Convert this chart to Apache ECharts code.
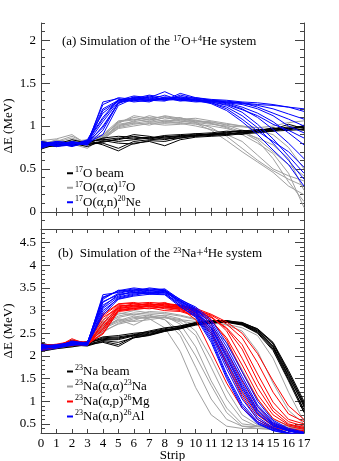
<!DOCTYPE html>
<html>
<head>
<meta charset="utf-8">
<script src="https://cdn.jsdelivr.net/npm/echarts@6/dist/echarts.min.js"></script>
<style>
  html, body { margin: 0; padding: 0; background: #fff; }
  #chart { width: 339px; height: 461px; }
</style>
</head>
<body>
<div id="chart"></div>
<script>
// strip positions (x)
const strips = [0, 1, 2, 3, 4, 5, 6, 7, 8, 9, 10, 11, 12, 13, 14, 15, 16, 17]

// tick values
const yMajorA = [0, 0.5, 1, 1.5, 2]
const yMajorB = [0.5, 1, 1.5, 2, 2.5, 3, 3.5, 4, 4.5]

// ---- panel (a): 17O + 4He ----
const oBeam = [
  [0.78,0.80,0.79,0.82,0.84,0.86,0.85,0.87,0.86,0.88,0.89,0.90,0.91,0.92,0.93,0.94,0.95,0.96],
  [0.75,0.77,0.80,0.79,0.80,0.74,0.82,0.84,0.85,0.86,0.88,0.89,0.90,0.92,0.94,0.95,0.97,0.98],
  [0.82,0.79,0.84,0.80,0.86,0.88,0.87,0.86,0.89,0.90,0.91,0.92,0.94,0.93,0.95,0.97,0.96,1.00],
  [0.76,0.81,0.77,0.83,0.78,0.71,0.80,0.82,0.77,0.84,0.87,0.88,0.89,0.91,0.92,0.94,0.98,0.95],
  [0.80,0.78,0.82,0.78,0.82,0.84,0.88,0.85,0.87,0.89,0.88,0.91,0.92,0.94,0.96,0.95,0.97,0.99],
  [0.73,0.79,0.78,0.81,0.85,0.82,0.84,0.86,0.88,0.87,0.90,0.90,0.93,0.95,0.93,0.96,1.02,0.97],
  [0.79,0.76,0.80,0.76,0.83,0.80,0.79,0.83,0.82,0.86,0.89,0.91,0.90,0.93,0.94,0.98,0.95,1.01],
  [0.81,0.78,0.77,0.80,0.81,0.85,0.90,0.88,0.84,0.88,0.91,0.89,0.92,0.90,0.95,0.96,0.99,0.98]
]
const oAlphaAlpha = [
  [0.80,0.82,0.88,0.80,0.86,1.02,1.05,1.08,1.06,1.07,1.05,1.04,1.02,1.00,0.98,0.97,0.96,0.95],
  [0.78,0.79,0.81,0.83,0.88,1.04,1.10,1.07,1.12,1.09,1.06,1.05,1.01,0.95,0.85,0.70,0.55,0.42],
  [0.83,0.85,0.90,0.78,0.84,0.98,1.02,1.04,1.03,1.05,1.06,1.03,0.99,0.93,0.83,0.62,0.35,0.12],
  [0.76,0.80,0.79,0.74,0.87,1.00,1.06,1.12,1.08,1.10,1.04,0.98,0.88,0.74,0.60,0.48,0.38,0.30],
  [0.81,0.78,0.82,0.84,0.90,1.06,1.08,1.05,1.10,1.06,1.03,0.95,0.83,0.70,0.58,0.46,0.30,0.20],
  [0.79,0.83,0.80,0.81,0.85,0.97,1.00,1.03,1.01,1.02,1.04,1.02,1.00,0.99,0.98,1.00,1.04,1.06],
  [0.77,0.81,0.86,0.79,0.89,1.03,1.12,1.09,1.11,1.08,1.07,1.03,0.98,0.90,0.80,0.68,0.45,0.05],
  [0.82,0.80,0.78,0.82,0.86,0.99,1.04,1.01,1.06,1.04,1.02,1.00,0.97,0.92,0.86,0.78,0.62,0.25],
  [0.80,0.77,0.84,0.80,0.88,1.05,1.07,1.10,1.05,1.08,1.09,1.06,1.03,1.00,0.95,0.90,0.75,0.50],
  [0.78,0.84,0.80,0.76,0.84,1.01,1.03,1.06,1.04,1.03,1.00,0.96,0.90,0.82,0.66,0.50,0.42,0.36]
]
const oAlphaN = [
  [0.78,0.80,0.79,0.82,1.20,1.30,1.32,1.30,1.33,1.31,1.30,1.29,1.28,1.27,1.25,1.24,1.22,1.20],
  [0.76,0.79,0.81,0.80,1.05,1.28,1.30,1.35,1.31,1.34,1.32,1.30,1.27,1.22,1.15,1.05,0.92,0.78],
  [0.81,0.77,0.80,0.78,0.95,1.27,1.33,1.31,1.36,1.30,1.31,1.28,1.24,1.16,1.02,0.85,0.65,0.45],
  [0.74,0.80,0.78,0.83,1.10,1.31,1.29,1.34,1.30,1.38,1.33,1.30,1.29,1.27,1.22,1.15,1.08,1.00],
  [0.79,0.82,0.80,0.81,1.25,1.33,1.31,1.29,1.32,1.33,1.29,1.27,1.22,1.12,0.98,0.80,0.60,0.38],
  [0.77,0.78,0.82,0.79,1.00,1.26,1.34,1.32,1.30,1.31,1.33,1.31,1.30,1.28,1.27,1.25,1.22,1.17],
  [0.80,0.76,0.78,0.84,1.15,1.29,1.30,1.28,1.34,1.32,1.30,1.26,1.18,1.05,0.90,0.72,0.55,0.30],
  [0.75,0.81,0.77,0.80,0.90,1.24,1.32,1.36,1.33,1.29,1.31,1.29,1.26,1.20,1.10,0.96,0.80,0.62],
  [0.82,0.79,0.81,0.79,1.28,1.32,1.28,1.30,1.31,1.34,1.30,1.28,1.25,1.19,1.12,1.02,0.95,0.86],
  [0.78,0.77,0.79,0.82,1.08,1.30,1.35,1.33,1.40,1.32,1.29,1.30,1.28,1.26,1.24,1.20,1.14,1.08],
  [0.79,0.80,0.76,0.81,0.98,1.27,1.31,1.30,1.29,1.36,1.32,1.27,1.20,1.08,0.94,0.82,0.70,0.52],
  [0.76,0.82,0.80,0.78,1.18,1.29,1.33,1.31,1.32,1.30,1.28,1.29,1.27,1.25,1.20,1.12,1.00,0.92]
]

// ---- panel (b): 23Na + 4He ----
const naBeam = [
  [2.20,2.22,2.27,2.28,2.38,2.40,2.45,2.50,2.57,2.63,2.72,2.76,2.77,2.70,2.55,2.20,1.55,0.90],
  [2.15,2.18,2.24,2.22,2.32,2.25,2.42,2.47,2.55,2.61,2.70,2.74,2.76,2.72,2.58,2.26,1.62,0.96],
  [2.25,2.24,2.30,2.30,2.42,2.45,2.50,2.53,2.60,2.66,2.74,2.78,2.78,2.73,2.60,2.30,1.68,1.00],
  [2.10,2.16,2.20,2.25,2.30,2.21,2.40,2.46,2.55,2.60,2.68,2.73,2.75,2.69,2.52,2.15,1.48,0.82],
  [2.22,2.20,2.35,2.27,2.40,2.42,2.47,2.55,2.62,2.66,2.73,2.77,2.78,2.71,2.56,2.22,1.58,0.88],
  [2.18,2.25,2.26,2.23,2.35,2.36,2.44,2.48,2.56,2.64,2.71,2.75,2.75,2.70,2.53,2.18,1.52,0.78],
  [2.28,2.21,2.22,2.32,2.36,2.38,2.46,2.52,2.58,2.62,2.69,2.72,2.76,2.74,2.59,2.28,1.64,0.93],
  [2.12,2.19,2.28,2.26,2.34,2.30,2.40,2.45,2.54,2.60,2.70,2.75,2.74,2.68,2.50,2.12,1.45,0.75]
]
const naAlphaAlpha = [
  [2.20,2.22,2.27,2.28,2.60,2.75,2.85,2.82,2.62,2.10,1.30,0.70,0.45,0.40,0.40,0.38,0.36,0.35],
  [2.15,2.18,2.24,2.22,2.55,2.70,2.78,2.90,2.80,2.45,1.75,1.05,0.60,0.45,0.44,0.42,0.40,0.38],
  [2.25,2.24,2.30,2.30,2.70,2.88,2.95,2.92,2.88,2.70,2.20,1.45,0.85,0.50,0.46,0.44,0.42,0.40],
  [2.10,2.16,2.20,2.25,2.65,2.80,2.68,2.85,2.90,2.82,2.55,1.95,1.25,0.70,0.48,0.45,0.43,0.42],
  [2.22,2.20,2.35,2.27,2.75,2.92,3.00,2.95,2.93,2.88,2.80,2.50,1.90,1.20,0.70,0.48,0.46,0.44],
  [2.18,2.25,2.26,2.23,2.52,2.72,2.82,2.86,2.84,2.78,2.70,2.62,2.30,1.70,1.05,0.60,0.47,0.45],
  [2.28,2.21,2.22,2.32,2.80,2.95,2.90,2.98,2.96,2.90,2.82,2.75,2.68,2.55,2.10,1.40,0.80,0.50],
  [2.12,2.19,2.28,2.26,2.62,2.78,2.88,2.84,2.86,2.80,2.76,2.72,2.70,2.62,2.45,1.95,1.20,0.55],
  [2.20,2.16,2.26,2.29,2.68,2.85,2.92,2.88,2.80,2.55,2.00,1.35,0.75,0.45,0.40,0.38,0.36,0.35],
  [2.17,2.23,2.21,2.27,2.58,2.82,2.76,2.80,2.85,2.75,2.45,1.75,1.05,0.60,0.44,0.42,0.40,0.39]
]
const naAlphaP = [
  [2.20,2.24,2.30,2.27,2.50,3.00,3.05,3.10,3.08,3.05,2.80,2.10,1.40,0.85,0.55,0.40,0.30,0.25],
  [2.16,2.19,2.38,2.25,2.70,3.10,3.12,3.15,3.10,3.08,2.95,2.55,1.85,1.20,0.70,0.45,0.38,0.32],
  [2.24,2.22,2.28,2.31,2.85,3.05,3.08,3.12,3.15,3.10,3.00,2.80,2.35,1.65,1.05,0.62,0.45,0.38],
  [2.12,2.18,2.25,2.23,2.60,3.08,3.15,3.12,3.18,3.06,2.98,2.85,2.60,2.15,1.45,0.85,0.55,0.45],
  [2.22,2.26,2.32,2.29,2.92,3.15,3.18,3.10,3.14,3.12,3.02,2.90,2.70,2.40,1.85,1.20,0.72,0.55],
  [2.18,2.20,2.24,2.26,2.48,2.98,3.02,3.06,3.00,2.98,2.88,2.50,1.80,1.10,0.60,0.42,0.35,0.30],
  [2.26,2.23,2.34,2.30,2.78,3.12,3.10,3.14,3.12,3.09,3.02,2.88,2.55,1.95,1.30,0.78,0.50,0.42],
  [2.14,2.21,2.27,2.28,2.65,3.04,3.10,3.08,3.06,3.04,2.92,2.70,2.10,1.45,0.88,0.52,0.40,0.35],
  [2.21,2.17,2.29,2.24,2.88,3.14,3.16,3.18,3.16,3.12,3.05,2.92,2.75,2.50,2.05,1.45,0.90,0.60],
  [2.19,2.25,2.22,2.32,2.55,3.02,3.06,3.04,3.08,3.02,2.95,2.78,2.40,1.80,1.15,0.70,0.48,0.40],
  [2.23,2.19,2.31,2.27,2.72,3.06,3.12,3.16,3.10,3.06,3.00,2.85,2.62,2.25,1.60,0.98,0.60,0.50],
  [2.15,2.22,2.26,2.25,2.60,3.00,3.04,3.10,3.04,3.00,2.90,2.62,2.00,1.30,0.78,0.48,0.36,0.33]
]
const naAlphaN = [
  [2.20,2.23,2.28,2.27,3.20,3.35,3.40,3.38,3.42,3.18,2.95,2.50,1.80,1.15,0.65,0.42,0.30,0.25],
  [2.17,2.19,2.25,2.24,3.05,3.30,3.38,3.45,3.40,3.22,3.00,2.60,1.95,1.30,0.75,0.45,0.35,0.28],
  [2.24,2.21,2.32,2.29,3.30,3.42,3.48,3.40,3.45,3.25,3.05,2.75,2.20,1.55,0.92,0.55,0.38,0.30],
  [2.12,2.17,2.24,2.25,2.95,3.28,3.36,3.42,3.38,3.15,2.90,2.40,1.60,0.95,0.55,0.38,0.30,0.25],
  [2.22,2.25,2.30,2.28,3.25,3.45,3.42,3.50,3.46,3.20,3.02,2.65,2.05,1.40,0.82,0.50,0.35,0.28],
  [2.18,2.21,2.23,2.30,3.12,3.32,3.44,3.38,3.40,3.10,2.85,2.30,1.50,0.85,0.50,0.35,0.28,0.22],
  [2.26,2.20,2.29,2.26,3.35,3.40,3.46,3.44,3.48,3.24,3.08,2.80,2.28,1.65,1.00,0.58,0.40,0.32],
  [2.14,2.22,2.27,2.23,3.00,3.26,3.34,3.40,3.36,3.12,2.92,2.45,1.72,1.05,0.60,0.40,0.30,0.25],
  [2.20,2.18,2.33,2.27,3.18,3.38,3.45,3.48,3.44,3.20,2.98,2.55,1.88,1.25,0.72,0.46,0.34,0.27],
  [2.16,2.24,2.26,2.31,3.08,3.36,3.40,3.36,3.43,3.16,2.96,2.62,2.00,1.35,0.80,0.48,0.36,0.29],
  [2.23,2.19,2.25,2.29,3.28,3.44,3.50,3.46,3.44,3.22,3.04,2.70,2.12,1.48,0.88,0.52,0.37,0.30],
  [2.19,2.23,2.29,2.24,2.90,3.25,3.32,3.36,3.35,3.08,2.88,2.35,1.55,0.90,0.52,0.36,0.29,0.24]
]

const FONT = 'Liberation Serif'
const AXIS = '#444'
const GREY = '#a0a0a0'

const legendText = {
  oBeam: '{s|17}O beam',
  oAA: '{s|17}O(α,α){s|17}O',
  oAN: '{s|17}O(α,n){s|20}Ne',
  naBeam: '{s|23}Na beam',
  naAA: '{s|23}Na(α,α){s|23}Na',
  naAP: '{s|23}Na(α,p){s|26}Mg',
  naAN: '{s|23}Na(α,n){s|26}Al'
}

const rich = {
  s: { fontFamily: FONT, fontSize: 8, verticalAlign: 'top', color: '#000' }
}

function minorTicks(min, max) {
  const out = []
  for (let i = Math.round(min * 10); i <= Math.round(max * 10); i++) out.push(i / 10)
  return out
}

const series = []
function addGroup(traces, name, color, gi) {
  traces.forEach(t => {
    series.push({
      type: 'line',
      name: name,
      xAxisIndex: gi * 2,
      yAxisIndex: gi * 4,
      data: t.map((v, i) => [strips[i], v]),
      symbol: 'none',
      lineStyle: { width: 1, color: color },
      itemStyle: { color: color },
      silent: true,
      animation: false
    })
  })
}
addGroup(oAlphaAlpha, 'oAA', GREY, 0)
addGroup(oBeam, 'oBeam', '#000', 0)
addGroup(oAlphaN, 'oAN', '#0000ff', 0)
addGroup(naAlphaAlpha, 'naAA', GREY, 1)
addGroup(naBeam, 'naBeam', '#000', 1)
addGroup(naAlphaP, 'naAP', '#ff0000', 1)
addGroup(naAlphaN, 'naAN', '#0000ff', 1)

const ranges = [[-0.2, 2.2], [0.3, 4.8]]
const majors = [yMajorA, yMajorB]

const xAxis = []
const yAxis = []
ranges.forEach((r, g) => {
  ;['bottom', 'top'].forEach(pos => {
    xAxis.push({
      type: 'value', gridIndex: g, position: pos, min: 0, max: 17, interval: 1,
      axisLine: { show: true, lineStyle: { color: AXIS, width: 1 } },
      axisTick: { show: true, inside: true, length: 4, lineStyle: { color: AXIS } },
      axisLabel: { show: g === 1 && pos === 'bottom', color: '#000', fontFamily: FONT, fontSize: 13, margin: 4 },
      splitLine: { show: false },
      name: g === 1 && pos === 'bottom' ? 'Strip' : '',
      nameLocation: 'middle', nameGap: 16, nameMoveOverlap: false,
      nameTextStyle: { color: '#000', fontFamily: FONT, fontSize: 13 }
    })
  })
  ;['left', 'right'].forEach(pos => {
    yAxis.push({
      type: 'value', gridIndex: g, position: pos, min: r[0], max: r[1],
      axisLine: { show: true, lineStyle: { color: AXIS, width: 1 } },
      axisTick: { show: true, inside: true, length: 9, customValues: majors[g], lineStyle: { color: AXIS } },
      axisLabel: { show: pos === 'left', customValues: majors[g], color: '#000', fontFamily: FONT, fontSize: 13, margin: 5 },
      splitLine: { show: false },
      name: pos === 'left' ? 'ΔE (MeV)' : '',
      nameLocation: 'middle', nameGap: 26, nameMoveOverlap: false,
      nameTextStyle: { color: '#000', fontFamily: FONT, fontSize: 13 }
    })
    yAxis.push({
      type: 'value', gridIndex: g, position: pos, min: r[0], max: r[1],
      axisLine: { show: false },
      axisTick: { show: true, inside: true, length: 4, customValues: minorTicks(r[0], r[1]), lineStyle: { color: AXIS } },
      axisLabel: { show: false },
      splitLine: { show: false }
    })
  })
})

const chart = echarts.init(document.getElementById('chart'), null, { renderer: 'canvas' })
chart.setOption({
  backgroundColor: '#fff',
  animation: false,
  grid: [
    { left: 41, right: 35, top: 23, height: 206, containLabel: false, outerBoundsMode: 'none' },
    { left: 41, right: 35, top: 229, height: 204, containLabel: false, outerBoundsMode: 'none' }
  ],
  title: [
    {
      text: '(a) Simulation of the {s|17}O+{s|4}He system',
      left: 62, top: 35, padding: 0,
      textStyle: { fontFamily: FONT, fontSize: 13, fontWeight: 'normal', color: '#000', rich: rich }
    },
    {
      text: '(b)  Simulation of the {s|23}Na+{s|4}He system',
      left: 58, top: 247, padding: 0,
      textStyle: { fontFamily: FONT, fontSize: 13, fontWeight: 'normal', color: '#000', rich: rich }
    }
  ],
  legend: [
    {
      data: ['oBeam', 'oAA', 'oAN'],
      orient: 'vertical', left: 67, top: 166, padding: 0,
      itemWidth: 6, itemHeight: 2, itemGap: 0, icon: 'rect', selectedMode: false,
      formatter: n => legendText[n],
      textStyle: { fontFamily: FONT, fontSize: 13, color: '#000', lineHeight: 14.5, padding: [0, 0, 0, -3], rich: rich }
    },
    {
      data: ['naBeam', 'naAA', 'naAP', 'naAN'],
      orient: 'vertical', left: 67, top: 364, padding: 0,
      itemWidth: 6, itemHeight: 2, itemGap: 0, icon: 'rect', selectedMode: false,
      formatter: n => legendText[n],
      textStyle: { fontFamily: FONT, fontSize: 13, color: '#000', lineHeight: 15, padding: [0, 0, 0, -3], rich: rich }
    }
  ],
  xAxis: xAxis,
  yAxis: yAxis,
  series: series
})
</script>
</body>
</html>
